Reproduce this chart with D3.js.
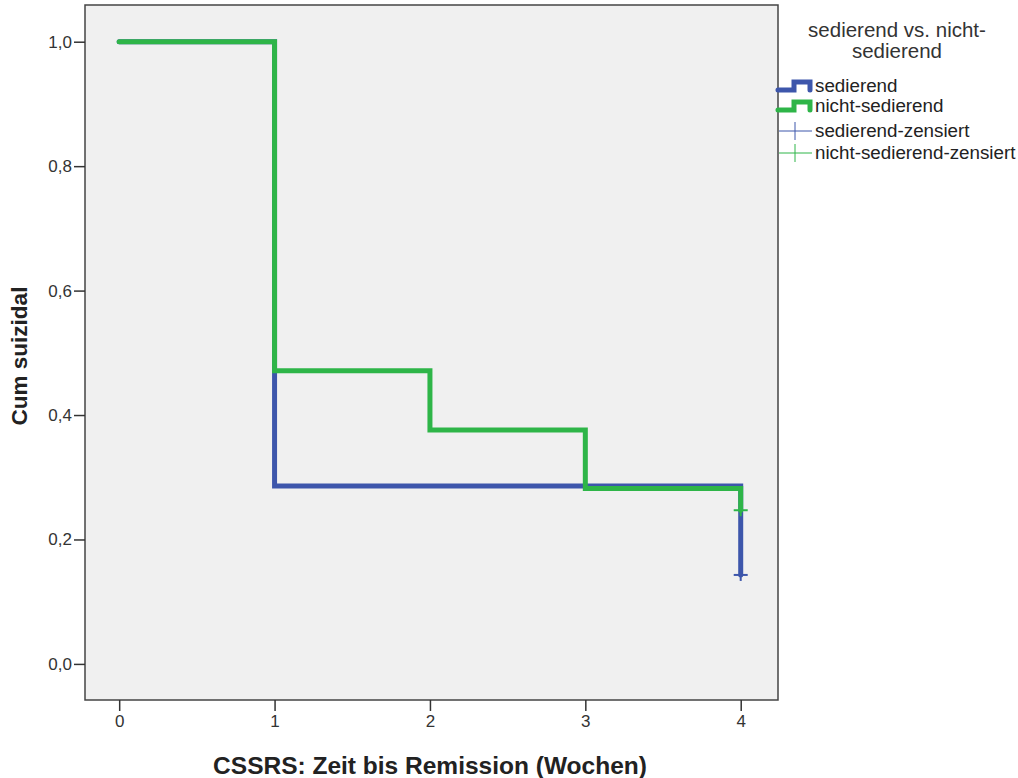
<!DOCTYPE html>
<html>
<head>
<meta charset="utf-8">
<script src="https://cdn.jsdelivr.net/npm/d3@7"></script>
<style>
  body { margin: 0; background: #fff; }
  text { font-family: "Liberation Sans", Arial, sans-serif; }
</style>
</head>
<body>
<div id="chart"></div>
<script>
// Kaplan-Meier Stufen (Zeit, Überleben)
const sedierend = [[0, 1.0], [1, 1.0], [1, 0.286], [4, 0.286], [4, 0.143]];
const nichtSedierend = [[0, 1.0], [1, 1.0], [1, 0.471], [2, 0.471], [2, 0.376], [3, 0.376], [3, 0.282], [4, 0.282], [4, 0.247]];
const zensiertSed = [[4, 0.143]];
const zensiertNicht = [[4, 0.247]];
const xTicks = [0, 1, 2, 3, 4];
const yTicks = [0, 0.2, 0.4, 0.6, 0.8, 1.0];
const legendTitle = ["sedierend vs. nicht-", "sedierend"];
const legendItems = ["sedierend", "nicht-sedierend", "sedierend-zensiert", "nicht-sedierend-zensiert"];

const W = 1018, H = 778;
const plot = { left: 85, top: 5, right: 778, bottom: 700 };
const blue = "#3d56ab", green = "#2eb548";

const svg = d3.select("#chart").append("svg")
    .attr("width", W).attr("height", H);

const x = d3.scaleLinear().domain([-0.22, 4.24]).range([plot.left, plot.right]);
const y = d3.scaleLinear().domain([-0.058, 1.059]).range([plot.bottom, plot.top]);

// Hintergrund
svg.append("rect")
    .attr("x", plot.left).attr("y", plot.top)
    .attr("width", plot.right - plot.left).attr("height", plot.bottom - plot.top)
    .attr("fill", "#f0f0f0").attr("stroke", "#444").attr("stroke-width", 1.5);

// Achsen
const xAxis = svg.append("g")
    .attr("transform", `translate(0,${plot.bottom})`)
    .call(d3.axisBottom(x).tickValues(xTicks).tickSize(11).tickPadding(4).tickFormat(d3.format("d")));
const yAxis = svg.append("g")
    .attr("transform", `translate(${plot.left},0)`)
    .call(d3.axisLeft(y).tickValues(yTicks).tickSize(11).tickPadding(2)
        .tickFormat(d => d3.format(".1f")(d).replace(".", ",")));
[xAxis, yAxis].forEach(g => {
    g.select(".domain").remove();
    g.selectAll(".tick line").attr("stroke", "#333").attr("stroke-width", 1.5);
    g.selectAll(".tick text").attr("fill", "#333").style("font-size", "17px")
        .style("font-family", "'Liberation Sans', Arial, sans-serif");
});

// Kurven
const line = d3.line().x(d => x(d[0])).y(d => y(d[1]));
[[sedierend, blue], [nichtSedierend, green]].forEach(([data, c]) => {
    svg.append("path").datum(data)
        .attr("d", line).attr("fill", "none")
        .attr("stroke", c).attr("stroke-width", 5)
        .attr("stroke-linejoin", "miter").attr("stroke-linecap", "round");
});

// Zensierungsmarken
[[zensiertSed, blue], [zensiertNicht, green]].forEach(([data, c]) => {
    const g = svg.append("g");
    data.forEach(d => {
        g.append("line").attr("x1", x(d[0]) - 7).attr("x2", x(d[0]) + 7)
            .attr("y1", y(d[1])).attr("y2", y(d[1])).attr("stroke", c).attr("stroke-width", 2);
        g.append("line").attr("x1", x(d[0])).attr("x2", x(d[0]))
            .attr("y1", y(d[1]) - 6).attr("y2", y(d[1]) + 6).attr("stroke", c).attr("stroke-width", 2);
    });
});

// Achsentitel
svg.append("text")
    .attr("x", 430).attr("y", 774)
    .attr("text-anchor", "middle")
    .style("font-size", "24.5px").style("font-weight", "bold").attr("fill", "#222")
    .text("CSSRS: Zeit bis Remission (Wochen)");
svg.append("text")
    .attr("transform", "translate(27,356) rotate(-90)")
    .attr("text-anchor", "middle")
    .style("font-size", "22.5px").style("font-weight", "bold").attr("fill", "#222")
    .text("Cum suizidal");

// Legende
const leg = svg.append("g");
legendTitle.forEach((t, i) => {
    leg.append("text").attr("x", 897).attr("y", 37 + i * 21)
        .attr("text-anchor", "middle").style("font-size", "20.5px").attr("fill", "#333")
        .text(t);
});
const rowY = [86, 106, 131, 153];
const colors = [blue, green, blue, green];
legendItems.forEach((t, i) => {
    const yy = rowY[i];
    if (i < 2) {
        leg.append("path")
            .attr("d", `M778,${yy + 4}H794V${yy - 4}H810V${yy + 4}`)
            .attr("fill", "none").attr("stroke", colors[i]).attr("stroke-width", 5)
            .attr("stroke-linecap", "round");
    } else {
        leg.append("line").attr("x1", 779).attr("x2", 812).attr("y1", yy).attr("y2", yy)
            .attr("stroke", colors[i]).attr("stroke-width", 1);
        leg.append("line").attr("x1", 795).attr("x2", 795).attr("y1", yy - 9).attr("y2", yy + 9)
            .attr("stroke", colors[i]).attr("stroke-width", 1);
    }
    leg.append("text").attr("x", 815).attr("y", yy + 6)
        .style("font-size", "18.8px").attr("fill", "#222").text(t);
});
</script>
</body>
</html>
